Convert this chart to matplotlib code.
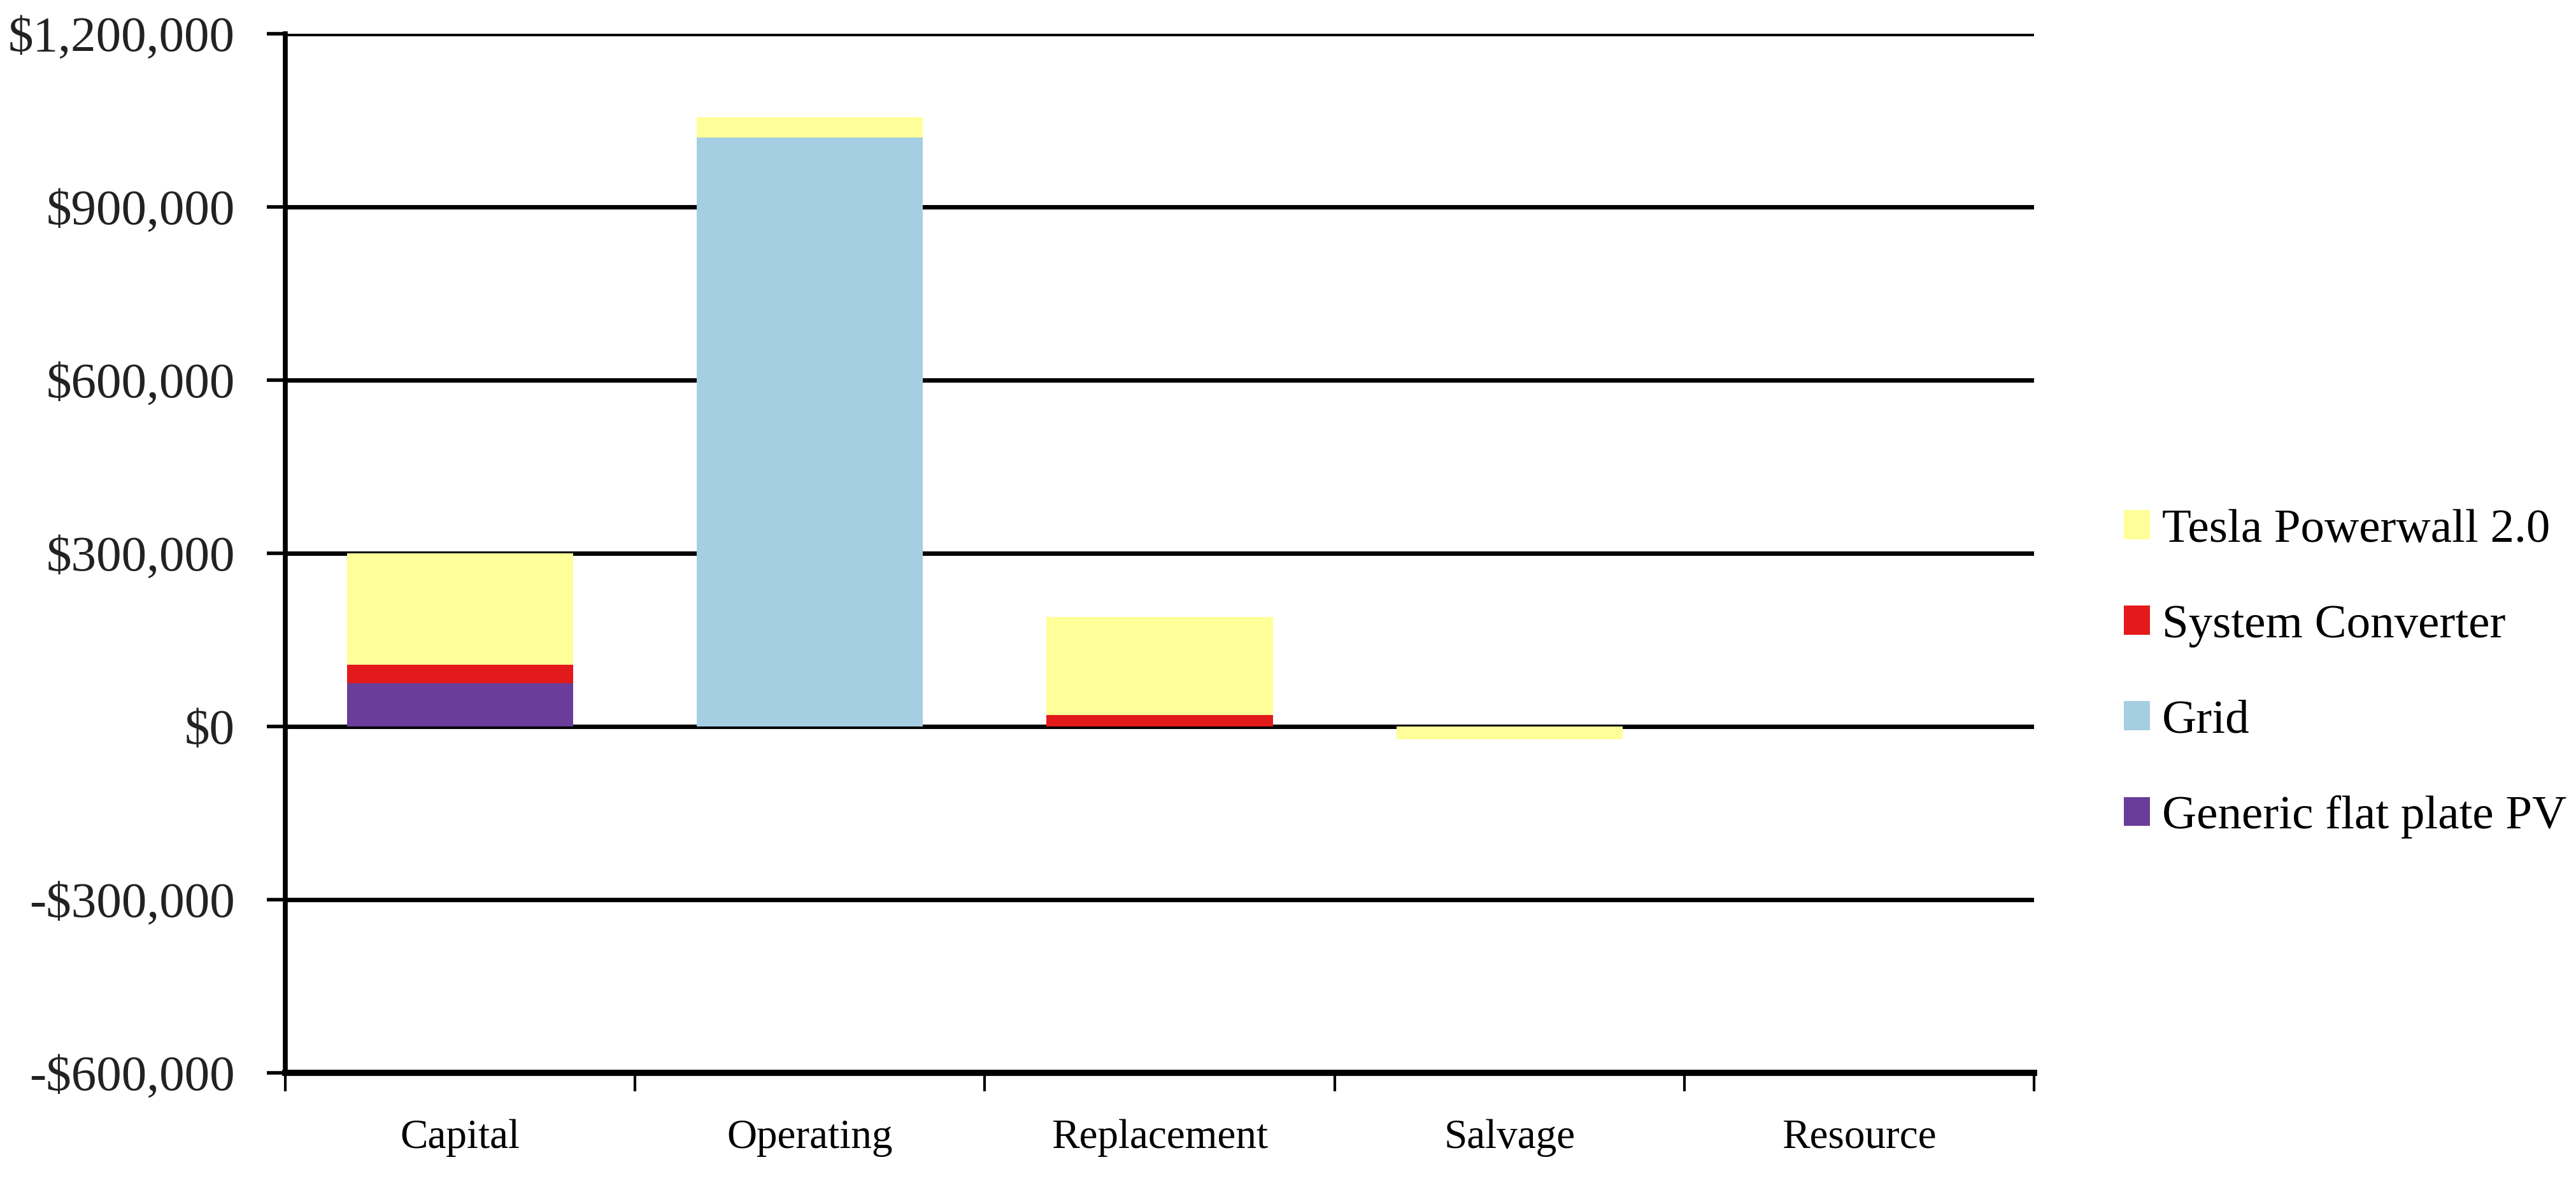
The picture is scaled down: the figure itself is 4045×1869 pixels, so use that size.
import numpy as np
import matplotlib
matplotlib.use("Agg")
import matplotlib.pyplot as plt
from matplotlib.ticker import FuncFormatter, FixedLocator

# Datos
categorias = ["Capital", "Operating", "Replacement", "Salvage", "Resource"]
series = ["Generic flat plate PV", "Grid", "System Converter", "Tesla Powerwall 2.0"]
pv = [75000, 0, 0, 0, 0]
red = [0, 1020000, 0, 0, 0]
conversor = [32000, 0, 19500, 0, 0]
tesla = [193000, 35000, 170000, -22000, 0]
colores = ["#6A3D9A", "#A6CEE3", "#E31A1C", "#FFFF99"]
y_ticks = [-600000, -300000, 0, 300000, 600000, 900000, 1200000]

plt.rcParams['font.family'] = ['Liberation Serif', 'DejaVu Serif']

fig = plt.figure(figsize=(40.45, 18.69), dpi=100)
ax = fig.add_axes([448/4045, 1-1685/1869, 2746/4045, (1685-53)/1869])

x = np.arange(len(categorias)) + 0.5
base_pos = np.zeros(len(categorias))
base_neg = np.zeros(len(categorias))
for nome, vals, cor in zip(series, [pv, red, conversor, tesla], colores):
    v = np.array(vals, dtype=float)
    base = np.where(v >= 0, base_pos, base_neg)
    ax.bar(x, v, bottom=base, width=0.647, color=cor, label=nome, zorder=3, linewidth=0)
    base_pos += np.where(v >= 0, v, 0)
    base_neg += np.where(v < 0, v, 0)

ax.set_xlim(0, len(categorias))
ax.set_ylim(-600000, 1200000)
ax.yaxis.set_major_locator(FixedLocator(y_ticks))
ax.yaxis.set_major_formatter(FuncFormatter(lambda v, p: ("-$" if v < 0 else "$") + f"{abs(v):,.0f}"))
ax.grid(axis='y', color='black', linewidth=5, zorder=1)
ax.set_axisbelow(True)

ax.set_xticks(np.arange(len(categorias) + 1))
ax.set_xticklabels([])
ax.set_xticks(x, minor=True)
ax.set_xticklabels(categorias, minor=True, fontsize=47)
ax.tick_params(axis='x', which='major', length=21, width=3, direction='out')
ax.tick_params(axis='x', which='minor', length=0, pad=52)
ax.tick_params(axis='y', length=21, width=4, direction='out', pad=36, labelsize=57, labelcolor='#222222')

for s in ['top', 'right']:
    ax.spines[s].set_visible(False)
ax.spines['left'].set_linewidth(5.5)
ax.spines['bottom'].set_linewidth(7)
ax.spines['left'].set_zorder(4)

h, l = ax.get_legend_handles_labels()
fig.legend(h[::-1], l[::-1], loc='center left', bbox_to_anchor=(3335/4045, 1-1058/1869),
           frameon=False, fontsize=54, borderpad=0, borderaxespad=0,
           handlelength=0.55, handleheight=0.55, handletextpad=0.25, labelspacing=1.1)

fig.savefig("out.png", dpi=100)
